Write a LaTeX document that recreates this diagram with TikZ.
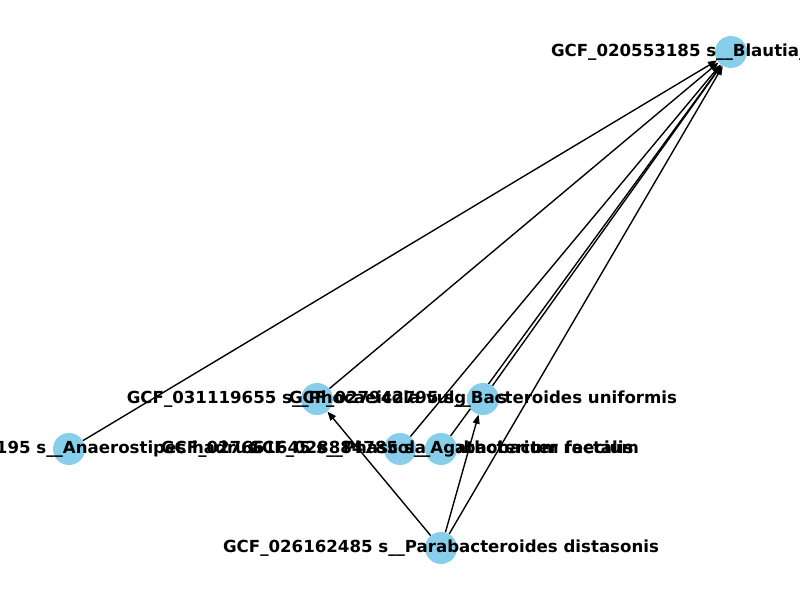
\documentclass[tikz,border=0pt]{standalone}
\usepackage{fontspec}
\setmainfont{DejaVu Sans}
\usetikzlibrary{arrows.meta,backgrounds}
\definecolor{skyblue}{HTML}{87CEEB}
\begin{document}
\begin{tikzpicture}[x=0.01in, y=-0.01in,
	taxon/.style={circle, fill=skyblue, minimum size=0.32in, inner sep=0pt},
	tag/.style={font=\fontsize{12}{14}\selectfont\bfseries, text=black},
	link/.style={->, draw=black, line width=1pt},
	>={Triangle[length=6.5pt,width=5pt]}]

	\useasboundingbox (0,0) rectangle (800,600);

	\node[taxon, label={[tag]center:GCF\_020553185 s\_\_Blautia\_A wexlerae}] (blautia) at (731,52) {};
	\node[taxon, label={[tag]center:GCF\_031119655 s\_\_Phocaeicola vulgatus}] (phoc) at (317,399) {};
	\node[taxon, label={[tag]center:GCF\_027942795 s\_\_Bacteroides uniformis}] (bunif) at (483,399) {};
	\node[taxon, label={[tag]center:GCF\_030226195 s\_\_Anaerostipes hadrus}] (anaero) at (69,449) {};
	\node[taxon, label={[tag]center:GCF\_027661645 s\_\_Phascolarctobacterium faecium}] (phasc) at (400,449) {};
	\node[taxon, label={[tag]center:GCF\_028884785 s\_\_Agathobacter rectalis}] (agath) at (441,449) {};
	\node[taxon, label={[tag]center:GCF\_026162485 s\_\_Parabacteroides distasonis}] (parab) at (441,548) {};

	\begin{scope}[on background layer]
	\draw[link] (anaero) -- (blautia);
	\draw[link] (phoc) -- (blautia);
	\draw[link] (bunif) -- (blautia);
	\draw[link] (phasc) -- (blautia);
	\draw[link] (agath) -- (blautia);
	\draw[link] (parab) -- (blautia);
	\draw[link] (parab) -- (phoc);
	\draw[link] (parab) -- (bunif);
	\end{scope}
\end{tikzpicture}
\end{document}
